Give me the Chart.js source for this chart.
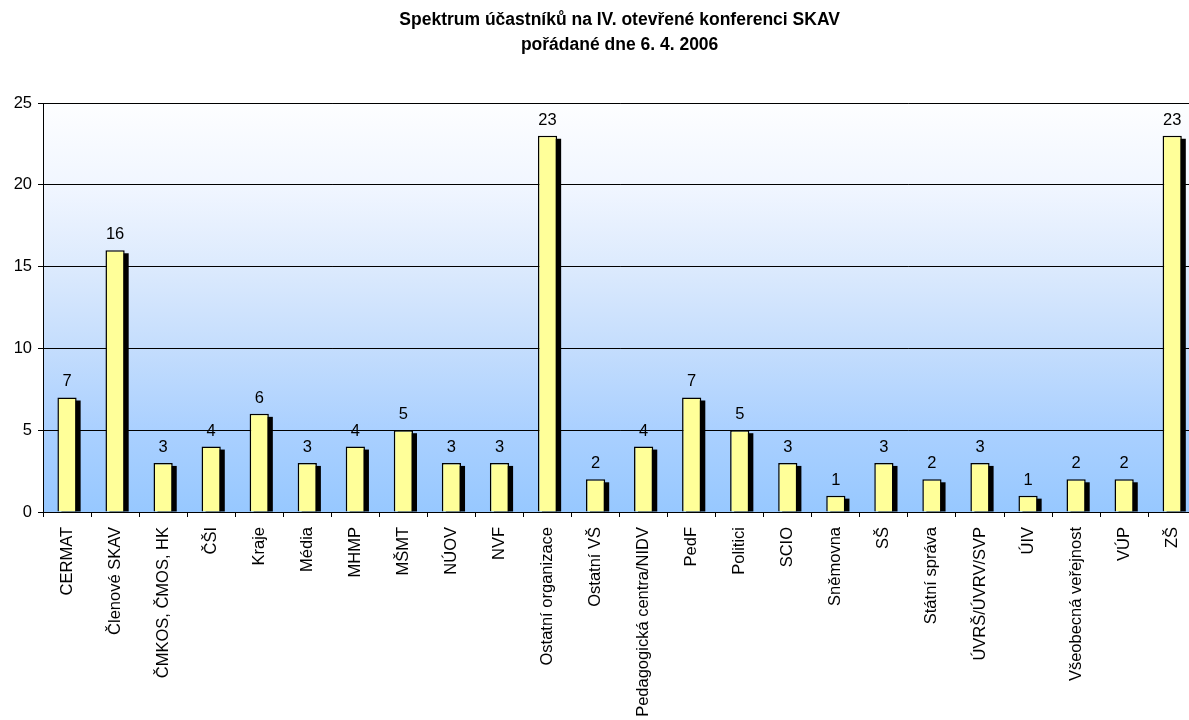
<!DOCTYPE html>
<html>
<head>
<meta charset="utf-8">
<script src="https://cdn.jsdelivr.net/npm/chart.js@4/dist/chart.umd.min.js"></script>
<style>
  html, body { margin: 0; padding: 0; background: #fff; overflow: hidden; }
  canvas { display: block; }
</style>
</head>
<body>
<canvas id="spektrum" width="1202" height="720"></canvas>
<script>
// Data
const categories = [
  "CERMAT", "Členové SKAV", "ČMKOS, ČMOS, HK", "ČŠI", "Kraje", "Média", "MHMP",
  "MŠMT", "NÚOV", "NVF", "Ostatní organizace", "Ostatní VŠ",
  "Pedagogická centra/NIDV", "PedF", "Politici", "SCIO", "Sněmovna", "SŠ",
  "Státní správa", "ÚVRŠ/ÚVRV/SVP", "ÚIV", "Všeobecná veřejnost", "VÚP", "ZŠ"
];
const participants = [7, 16, 3, 4, 6, 3, 4, 5, 3, 3, 23, 2, 4, 7, 5, 3, 1, 3, 2, 3, 1, 2, 2, 23];
const yTicks = [0, 5, 10, 15, 20, 25];
const titleLines = ["Spektrum účastníků na IV. otevřené konferenci SKAV", "pořádané dne 6. 4. 2006"];

const FONT = "'Liberation Sans', Arial, sans-serif";

// Plot background gradient (white at top -> light blue at bottom)
const plotBackground = {
  id: "plotBackground",
  beforeDraw(chart) {
    const { ctx, chartArea: a } = chart;
    const g = ctx.createLinearGradient(0, a.top, 0, a.bottom);
    g.addColorStop(0, "#fdfeff");
    g.addColorStop(0.2, "#f1f6ff");
    g.addColorStop(0.4, "#dceafd");
    g.addColorStop(0.6, "#c4ddfd");
    g.addColorStop(0.8, "#aad0ff");
    g.addColorStop(1, "#97c8ff");
    ctx.save();
    ctx.fillStyle = g;
    ctx.fillRect(a.left, a.top, a.right - a.left, a.bottom - a.top);
    ctx.restore();
  }
};

// Black drop shadow behind every bar
const barShadow = {
  id: "barShadow",
  beforeDatasetsDraw(chart) {
    const { ctx, chartArea: a } = chart;
    const meta = chart.getDatasetMeta(0);
    ctx.save();
    ctx.fillStyle = "#000";
    meta.data.forEach(bar => {
      const w = bar.width;
      const top = bar.y + 3;
      const bottom = Math.min(bar.base, a.bottom);
      ctx.fillRect(bar.x - w / 2 + 4, top, w, bottom - top);
    });
    ctx.restore();
  }
};

// Value labels above bars
const valueLabels = {
  id: "valueLabels",
  afterDatasetsDraw(chart) {
    const { ctx } = chart;
    const meta = chart.getDatasetMeta(0);
    ctx.save();
    ctx.fillStyle = "#000";
    ctx.font = "16.5px " + FONT;
    ctx.textAlign = "center";
    ctx.textBaseline = "alphabetic";
    meta.data.forEach((bar, i) => {
      ctx.fillText(String(participants[i]), bar.x, bar.y - 11);
    });
    ctx.restore();
  }
};

// Centre the title over the plot area rather than the whole canvas
const titleOverPlot = {
  id: "titleOverPlot",
  afterLayout(chart) {
    if (chart.titleBlock) {
      chart.titleBlock.left = chart.chartArea.left;
      chart.titleBlock.right = chart.chartArea.right;
    }
  }
};

new Chart(document.getElementById("spektrum"), {
  type: "bar",
  data: {
    labels: categories,
    datasets: [{
      data: participants,
      backgroundColor: "#ffff99",
      borderColor: "#000",
      borderWidth: 1.5,
      barPercentage: 0.4,
      categoryPercentage: 1,
      clip: 0
    }]
  },
  options: {
    responsive: false,
    animation: false,
    layout: { padding: 0 },
    plugins: {
      legend: { display: false },
      tooltip: { enabled: false },
      title: {
        display: true,
        text: titleLines,
        color: "#000",
        font: { family: FONT, size: 17.5, weight: "bold", lineHeight: 1.43 },
        padding: { top: 8, bottom: 45 }
      }
    },
    scales: {
      x: {
        offset: true,
        grid: {
          offset: true,
          drawOnChartArea: false,
          drawTicks: true,
          tickLength: 5,
          color: "#000"
        },
        border: { display: true, color: "#000", width: 1 },
        ticks: {
          color: "#000",
          font: { family: FONT, size: 16.5 },
          minRotation: 90,
          maxRotation: 90,
          autoSkip: false,
          padding: 10
        },
        afterFit(scale) { scale.height = 208; }
      },
      y: {
        min: 0,
        max: 25,
        afterBuildTicks(scale) { scale.ticks = yTicks.map(v => ({ value: v })); },
        grid: {
          color: "#000",
          lineWidth: 1,
          drawTicks: true,
          tickLength: 5
        },
        border: { display: true, color: "#000", width: 1 },
        ticks: {
          color: "#000",
          font: { family: FONT, size: 16.5 },
          padding: 6
        },
        afterFit(scale) { scale.width = 43; }
      }
    }
  },
  plugins: [plotBackground, barShadow, valueLabels, titleOverPlot]
});
</script>
</body>
</html>
